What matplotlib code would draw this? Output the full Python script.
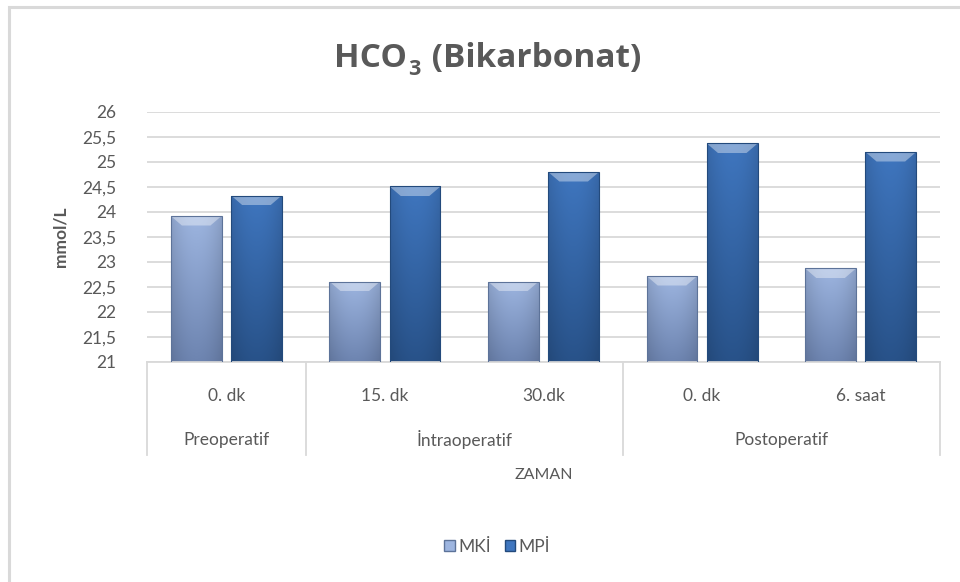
import matplotlib
matplotlib.use("Agg")
import matplotlib.pyplot as plt
import numpy as np
from matplotlib.patches import Rectangle, Patch, Polygon
from matplotlib.colors import LinearSegmentedColormap
import matplotlib.transforms as mtransforms

# ---- data ----
sub_labels = ["0. dk", "15. dk", "30.dk", "0. dk", "6. saat"]
groups = ["Preoperatif", "İntraoperatif", "Postoperatif"]
group_sizes = [1, 2, 2]
series_names = ["MKİ", "MPİ"]
mki = [23.92, 22.61, 22.61, 22.72, 22.87]
mpi = [24.33, 24.51, 24.80, 25.37, 25.20]
yticks = [21, 21.5, 22, 22.5, 23, 23.5, 24, 24.5, 25, 25.5, 26]

plt.rcParams['font.family'] = ['Lato', 'DejaVu Sans']

TXT = '#595959'
GRID = '#d9d9d9'

fig = plt.figure(figsize=(9.6, 5.82), dpi=100)
W, H = 960, 582
ax = fig.add_axes([147 / W, 1 - 362 / H, (940 - 147) / W, 250 / H])

x = np.arange(len(sub_labels))
bw = 0.32
gap = 0.06
off = (bw + gap) / 2

cols = [('#9db5e0', '#6d84b0'), ('#3f76bf', '#285289')]
edge = ['#5d7399', '#234a7c']

def grad_bar(ax, xc, h, c_top, c_bot, ec, base=21):
    r = Rectangle((xc - bw / 2, base), bw, h - base, facecolor='none',
                  edgecolor=ec, linewidth=0.8, zorder=3)
    ax.add_patch(r)
    cmap = LinearSegmentedColormap.from_list('g', [c_bot, c_top])
    grad = np.linspace(0, 1, 256).reshape(-1, 1)
    hx = 1 - 0.12 * np.abs(np.linspace(-1, 1, 64)) ** 2
    img = cmap(grad)[:, :, :3] * hx[None, :, None]
    im = ax.imshow(img, extent=(xc - bw / 2, xc + bw / 2, base, h),
                   origin='lower', aspect='auto', zorder=2,
                   interpolation='bilinear')
    im.set_clip_path(r)
    bev = 0.19
    p = Polygon([(xc - bw / 2, h), (xc + bw / 2, h),
                 (xc + bw / 2 - 0.07, h - bev), (xc - bw / 2 + 0.07, h - bev)],
                closed=True, facecolor='white', alpha=0.38, edgecolor='none',
                zorder=2.5)
    ax.add_patch(p)

for i in range(len(x)):
    grad_bar(ax, x[i] - off, mki[i], cols[0][0], cols[0][1], edge[0])
    grad_bar(ax, x[i] + off, mpi[i], cols[1][0], cols[1][1], edge[1])

ax.set_xlim(-0.5, len(x) - 0.5)
ax.set_ylim(21, 26)
ax.set_yticks(yticks)
ax.set_yticklabels([("%g" % v).replace('.', ',') for v in yticks],
                   fontsize=12.5, color=TXT)
ax.tick_params(axis='y', length=0, pad=22)
ax.set_xticks([])
ax.yaxis.grid(True, color=GRID, linewidth=1.3, zorder=0)
ax.set_axisbelow(True)
for s in ['top', 'right', 'left']:
    ax.spines[s].set_visible(False)
ax.spines['bottom'].set_color(GRID)
ax.spines['bottom'].set_linewidth(1.3)

ax.set_ylabel('mmol/L', fontsize=12.5, color=TXT, labelpad=10,
              fontweight='bold')

trans = mtransforms.blended_transform_factory(ax.transData, ax.transAxes)
for i, lab in enumerate(sub_labels):
    ax.text(x[i], -0.135, lab, transform=trans, ha='center', va='center',
            fontsize=12.5, color=TXT)
bounds = [-0.5]
for n in group_sizes:
    bounds.append(bounds[-1] + n)
for g, lab in enumerate(groups):
    ax.text((bounds[g] + bounds[g + 1]) / 2, -0.31, lab, transform=trans,
            ha='center', va='center', fontsize=12.5, color=TXT)
for b in bounds:
    ax.plot([b, b], [0, -0.372], transform=trans, color=GRID, lw=1.3,
            clip_on=False)

ax.text(0.5, -0.452, 'ZAMAN', transform=ax.transAxes, ha='center',
        va='center', fontsize=11.5, color=TXT)

# title built from pieces: HCO + subscript 3 + (Bikarbonat)
renderer = fig.canvas.get_renderer()
tfs = 24
ty = 1 - 67 / H
t1 = fig.text(0, ty, 'HCO', fontsize=tfs, fontweight='bold', color=TXT,
              family='Open Sans', va='baseline')
t2 = fig.text(0, ty, '3', fontsize=tfs * 0.65, fontweight='bold', color=TXT,
              family='Open Sans', va='baseline')
t3 = fig.text(0, ty, ' (Bikarbonat)', fontsize=tfs, fontweight='bold',
              color=TXT, family='Open Sans', va='baseline')
w1 = t1.get_window_extent(renderer).width / W
w2 = t2.get_window_extent(renderer).width / W
w3 = t3.get_window_extent(renderer).width / W
total = w1 + w2 + 0.004 + w3
x0 = 0.508 - total / 2
t1.set_x(x0)
t2.set_x(x0 + w1 + 0.001)
t2.set_y(ty - 8 / H)
t3.set_x(x0 + w1 + w2 + 0.004)

handles = [Patch(facecolor=cols[0][0], edgecolor=edge[0]),
           Patch(facecolor=cols[1][0], edgecolor=edge[1])]
fig.legend(handles, series_names, loc='center', bbox_to_anchor=(0.518, 1 - 547 / H),
           ncol=2, frameon=False, fontsize=12.5, handlelength=0.6,
           handleheight=0.6, handletextpad=0.2, columnspacing=0.8,
           labelcolor=TXT)

# outer border
fig.patches.append(Rectangle((9 / W, -0.1), 1.2, 1 - 7 / H + 0.1,
                             transform=fig.transFigure, fill=False,
                             edgecolor=GRID, linewidth=2.2))

fig.savefig('out.png', dpi=100, facecolor='white')
